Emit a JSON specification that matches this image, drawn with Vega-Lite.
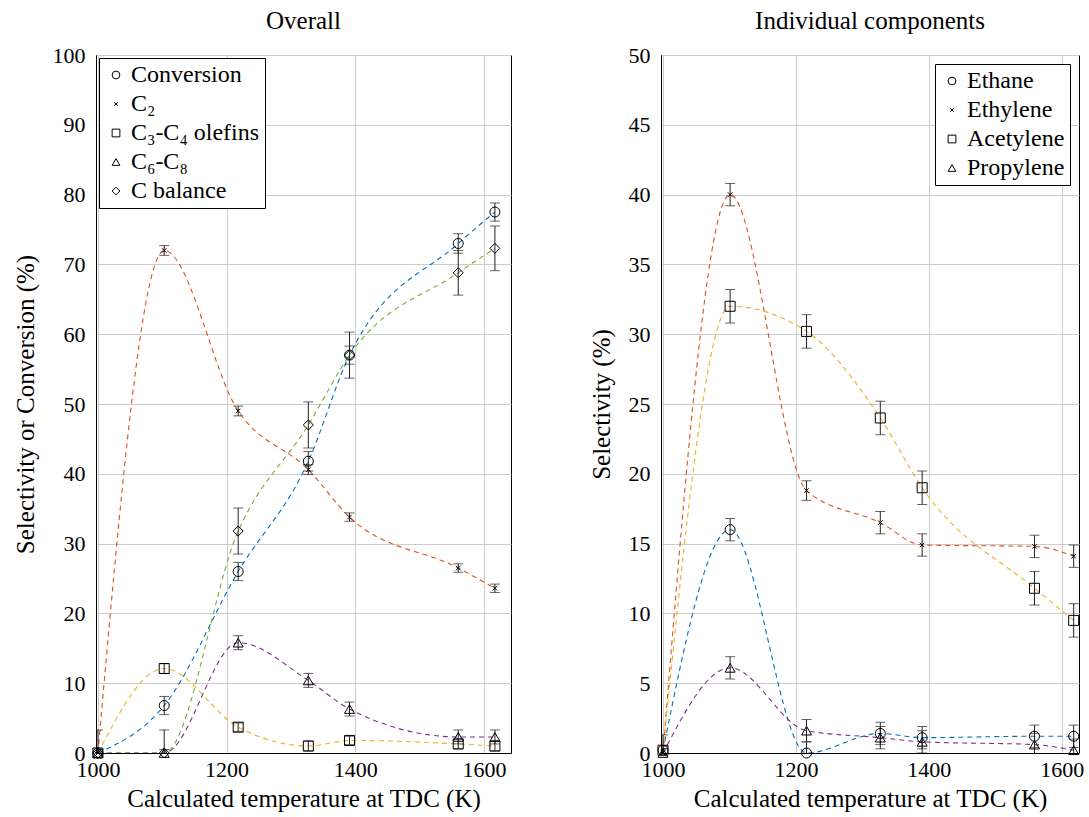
{
  "$schema": "https://vega.github.io/schema/vega-lite/v6.json",
  "padding": {"left": 12, "top": 8, "right": 5, "bottom": 0},
  "background": "white",
  "spacing": 76,
  "config": {
    "font": "Liberation Serif",
    "view": {"stroke": "black", "strokeWidth": 1},
    "axis": {
      "labelFont": "Liberation Serif", "labelFontSize": 22, "labelColor": "black",
      "titleFont": "Liberation Serif", "titleFontSize": 25, "titleFontWeight": "normal", "titleColor": "black",
      "gridColor": "#cccccc", "gridWidth": 1, "domainColor": "black", "ticks": false, "labelPadding": 11
    },
    "axisX": {"titlePadding": 6, "labelPadding": 6},
    "axisY": {"titlePadding": 14},
    "title": {"font": "Liberation Serif", "fontSize": 25, "fontWeight": "normal", "color": "black", "offset": 10},
    "legend": {
      "labelFont": "Liberation Serif", "labelFontSize": 24, "labelColor": "black",
      "strokeColor": "black", "fillColor": "white", "padding": 5, "rowPadding": 5,
      "symbolSize": 60, "symbolStrokeWidth": 1, "symbolStrokeColor": "black", "cornerRadius": 0, "labelOffset": 3
    }
  },
  "resolve": {"scale": {"shape": "independent", "color": "independent", "x": "independent", "y": "independent"}, "legend": {"shape": "independent"}},
  "datasets": {
    "overall": [
      {"series": "Conversion", "T": 1000, "v": 0, "lo": -0.5, "hi": 0.5},
      {"series": "Conversion", "T": 1103, "v": 6.8, "lo": 5.5, "hi": 8.1},
      {"series": "Conversion", "T": 1218, "v": 26.0, "lo": 24.7, "hi": 27.3},
      {"series": "Conversion", "T": 1327, "v": 41.8, "lo": 40.4, "hi": 43.2},
      {"series": "Conversion", "T": 1391, "v": 57.0, "lo": 55.7, "hi": 58.3},
      {"series": "Conversion", "T": 1560, "v": 73.0, "lo": 71.6, "hi": 74.4},
      {"series": "Conversion", "T": 1617, "v": 77.5, "lo": 76.2, "hi": 78.8},
      {"series": "C₂", "T": 1000, "v": 0, "lo": -0.5, "hi": 0.5},
      {"series": "C₂", "T": 1103, "v": 72.0, "lo": 71.3, "hi": 72.7},
      {"series": "C₂", "T": 1218, "v": 49.0, "lo": 48.3, "hi": 49.7},
      {"series": "C₂", "T": 1327, "v": 40.6, "lo": 39.9, "hi": 41.3},
      {"series": "C₂", "T": 1391, "v": 33.8, "lo": 33.2, "hi": 34.4},
      {"series": "C₂", "T": 1560, "v": 26.5, "lo": 25.9, "hi": 27.1},
      {"series": "C₂", "T": 1617, "v": 23.6, "lo": 23.0, "hi": 24.2},
      {"series": "C₃-C₄ olefins", "T": 1000, "v": 0, "lo": -0.5, "hi": 0.5},
      {"series": "C₃-C₄ olefins", "T": 1103, "v": 12.1, "lo": 11.4, "hi": 12.8},
      {"series": "C₃-C₄ olefins", "T": 1218, "v": 3.7, "lo": 3.1, "hi": 4.3},
      {"series": "C₃-C₄ olefins", "T": 1327, "v": 1.0, "lo": 0.3, "hi": 1.7},
      {"series": "C₃-C₄ olefins", "T": 1391, "v": 1.8, "lo": 1.2, "hi": 2.4},
      {"series": "C₃-C₄ olefins", "T": 1560, "v": 1.3, "lo": 0.6, "hi": 2.0},
      {"series": "C₃-C₄ olefins", "T": 1617, "v": 1.0, "lo": 0.3, "hi": 1.7},
      {"series": "C₆-C₈", "T": 1000, "v": 0, "lo": -0.5, "hi": 0.5},
      {"series": "C₆-C₈", "T": 1103, "v": 0, "lo": -0.5, "hi": 0.5},
      {"series": "C₆-C₈", "T": 1218, "v": 15.8, "lo": 14.8, "hi": 16.8},
      {"series": "C₆-C₈", "T": 1327, "v": 10.4, "lo": 9.4, "hi": 11.4},
      {"series": "C₆-C₈", "T": 1391, "v": 6.3, "lo": 5.3, "hi": 7.3},
      {"series": "C₆-C₈", "T": 1560, "v": 2.3, "lo": 1.3, "hi": 3.3},
      {"series": "C₆-C₈", "T": 1617, "v": 2.3, "lo": 1.3, "hi": 3.3},
      {"series": "C balance", "T": 1000, "v": 0, "lo": -3.3, "hi": 3.3},
      {"series": "C balance", "T": 1103, "v": 0, "lo": -3.3, "hi": 3.3},
      {"series": "C balance", "T": 1218, "v": 31.8, "lo": 28.5, "hi": 35.1},
      {"series": "C balance", "T": 1327, "v": 47.0, "lo": 43.7, "hi": 50.3},
      {"series": "C balance", "T": 1391, "v": 57.0, "lo": 53.7, "hi": 60.3},
      {"series": "C balance", "T": 1560, "v": 68.8, "lo": 65.6, "hi": 72.0},
      {"series": "C balance", "T": 1617, "v": 72.3, "lo": 69.1, "hi": 75.5}
    ],
    "components": [
      {"series": "Ethane", "T": 1000, "v": 0.2, "lo": -0.9, "hi": 1.3},
      {"series": "Ethane", "T": 1101, "v": 16.0, "lo": 15.2, "hi": 16.8},
      {"series": "Ethane", "T": 1216, "v": 0.0, "lo": -0.8, "hi": 0.8},
      {"series": "Ethane", "T": 1327, "v": 1.4, "lo": 0.6, "hi": 2.2},
      {"series": "Ethane", "T": 1390, "v": 1.1, "lo": 0.3, "hi": 1.9},
      {"series": "Ethane", "T": 1559, "v": 1.2, "lo": 0.4, "hi": 2.0},
      {"series": "Ethane", "T": 1618, "v": 1.2, "lo": 0.4, "hi": 2.0},
      {"series": "Ethylene", "T": 1000, "v": 0, "lo": -0.3, "hi": 0.3},
      {"series": "Ethylene", "T": 1101, "v": 40.0, "lo": 39.2, "hi": 40.8},
      {"series": "Ethylene", "T": 1216, "v": 18.8, "lo": 18.1, "hi": 19.5},
      {"series": "Ethylene", "T": 1327, "v": 16.5, "lo": 15.7, "hi": 17.3},
      {"series": "Ethylene", "T": 1390, "v": 14.9, "lo": 14.1, "hi": 15.7},
      {"series": "Ethylene", "T": 1559, "v": 14.8, "lo": 14.0, "hi": 15.6},
      {"series": "Ethylene", "T": 1618, "v": 14.1, "lo": 13.3, "hi": 14.9},
      {"series": "Acetylene", "T": 1000, "v": 0.2, "lo": -0.1, "hi": 0.5},
      {"series": "Acetylene", "T": 1101, "v": 32.0, "lo": 30.8, "hi": 33.2},
      {"series": "Acetylene", "T": 1216, "v": 30.2, "lo": 29.0, "hi": 31.4},
      {"series": "Acetylene", "T": 1327, "v": 24.0, "lo": 22.8, "hi": 25.2},
      {"series": "Acetylene", "T": 1390, "v": 19.0, "lo": 17.8, "hi": 20.2},
      {"series": "Acetylene", "T": 1559, "v": 11.8, "lo": 10.6, "hi": 13.0},
      {"series": "Acetylene", "T": 1618, "v": 9.5, "lo": 8.3, "hi": 10.7},
      {"series": "Propylene", "T": 1000, "v": 0, "lo": -0.3, "hi": 0.3},
      {"series": "Propylene", "T": 1101, "v": 6.1, "lo": 5.3, "hi": 6.9},
      {"series": "Propylene", "T": 1216, "v": 1.6, "lo": 0.8, "hi": 2.4},
      {"series": "Propylene", "T": 1327, "v": 1.1, "lo": 0.3, "hi": 1.9},
      {"series": "Propylene", "T": 1390, "v": 0.8, "lo": 0.0, "hi": 1.6},
      {"series": "Propylene", "T": 1559, "v": 0.6, "lo": -0.2, "hi": 1.4},
      {"series": "Propylene", "T": 1618, "v": 0.2, "lo": -0.6, "hi": 1.0}
    ]
  },
  "hconcat": [
    {
      "title": "Overall",
      "width": 415, "height": 698,
      "data": {"name": "overall"},
      "encoding": {
        "x": {"field": "T", "type": "quantitative", "scale": {"domain": [997, 1642], "nice": false, "zero": false},
              "axis": {"values": [1000, 1200, 1400, 1600], "title": "Calculated temperature at TDC (K)", "format": "d"}}
      },
      "layer": [
        {
          "mark": {"type": "line", "interpolate": "monotone", "strokeDash": [5, 4], "strokeWidth": 1.1, "clip": true},
          "encoding": {
            "y": {"field": "v", "type": "quantitative", "scale": {"domain": [0, 100], "nice": false},
                  "axis": {"values": [0, 10, 20, 30, 40, 50, 60, 70, 80, 90, 100], "title": "Selectivity or Conversion (%)"}},
            "color": {"field": "series", "type": "nominal", "legend": null,
                      "scale": {"domain": ["C balance", "C₆-C₈", "C₃-C₄ olefins", "C₂", "Conversion"],
                                "range": ["#77AC30", "#7E2F8E", "#EDB120", "#D95319", "#0072BD"]}}
          }
        },
        {
          "mark": {"type": "rule", "color": "#222222", "strokeWidth": 1, "clip": true},
          "encoding": {"y": {"field": "lo", "type": "quantitative"}, "y2": {"field": "hi"}}
        },
        {
          "mark": {"type": "tick", "orient": "horizontal", "size": 10, "thickness": 1, "color": "#222222", "clip": true},
          "encoding": {"y": {"field": "lo", "type": "quantitative"}}
        },
        {
          "mark": {"type": "tick", "orient": "horizontal", "size": 10, "thickness": 1, "color": "#222222", "clip": true},
          "encoding": {"y": {"field": "hi", "type": "quantitative"}}
        },
        {
          "mark": {"type": "point", "filled": false, "color": "black", "size": 100, "strokeWidth": 1, "opacity": 1},
          "encoding": {
            "y": {"field": "v", "type": "quantitative"},
            "shape": {"field": "series", "type": "nominal",
                      "scale": {"domain": ["Conversion", "C₂", "C₃-C₄ olefins", "C₆-C₈", "C balance"],
                                "range": ["circle", "M-0.45,-0.45L0.45,0.45M-0.45,0.45L0.45,-0.45", "square", "triangle-up", "diamond"]},
                      "legend": {"title": null, "orient": "top-left", "offset": 3}}
          }
        }
      ]
    },
    {
      "title": "Individual components",
      "width": 418, "height": 698,
      "data": {"name": "components"},
      "encoding": {
        "x": {"field": "T", "type": "quantitative", "scale": {"domain": [997, 1626], "nice": false, "zero": false},
              "axis": {"values": [1000, 1200, 1400, 1600], "title": "Calculated temperature at TDC (K)", "format": "d"}}
      },
      "layer": [
        {
          "mark": {"type": "line", "interpolate": "monotone", "strokeDash": [5, 4], "strokeWidth": 1.1, "clip": true},
          "encoding": {
            "y": {"field": "v", "type": "quantitative", "scale": {"domain": [0, 50], "nice": false},
                  "axis": {"values": [0, 5, 10, 15, 20, 25, 30, 35, 40, 45, 50], "title": "Selectivity (%)"}},
            "color": {"field": "series", "type": "nominal", "legend": null,
                      "scale": {"domain": ["Propylene", "Acetylene", "Ethylene", "Ethane"],
                                "range": ["#7E2F8E", "#EDB120", "#D95319", "#0072BD"]}}
          }
        },
        {
          "mark": {"type": "rule", "color": "#222222", "strokeWidth": 1, "clip": true},
          "encoding": {"y": {"field": "lo", "type": "quantitative"}, "y2": {"field": "hi"}}
        },
        {
          "mark": {"type": "tick", "orient": "horizontal", "size": 10, "thickness": 1, "color": "#222222", "clip": true},
          "encoding": {"y": {"field": "lo", "type": "quantitative"}}
        },
        {
          "mark": {"type": "tick", "orient": "horizontal", "size": 10, "thickness": 1, "color": "#222222", "clip": true},
          "encoding": {"y": {"field": "hi", "type": "quantitative"}}
        },
        {
          "mark": {"type": "point", "filled": false, "color": "black", "size": 100, "strokeWidth": 1, "opacity": 1},
          "encoding": {
            "y": {"field": "v", "type": "quantitative"},
            "shape": {"field": "series", "type": "nominal",
                      "scale": {"domain": ["Ethane", "Ethylene", "Acetylene", "Propylene"],
                                "range": ["circle", "M-0.45,-0.45L0.45,0.45M-0.45,0.45L0.45,-0.45", "square", "triangle-up"]},
                      "legend": {"title": null, "orient": "top-right", "offset": 9}}
          }
        }
      ]
    }
  ]
}
